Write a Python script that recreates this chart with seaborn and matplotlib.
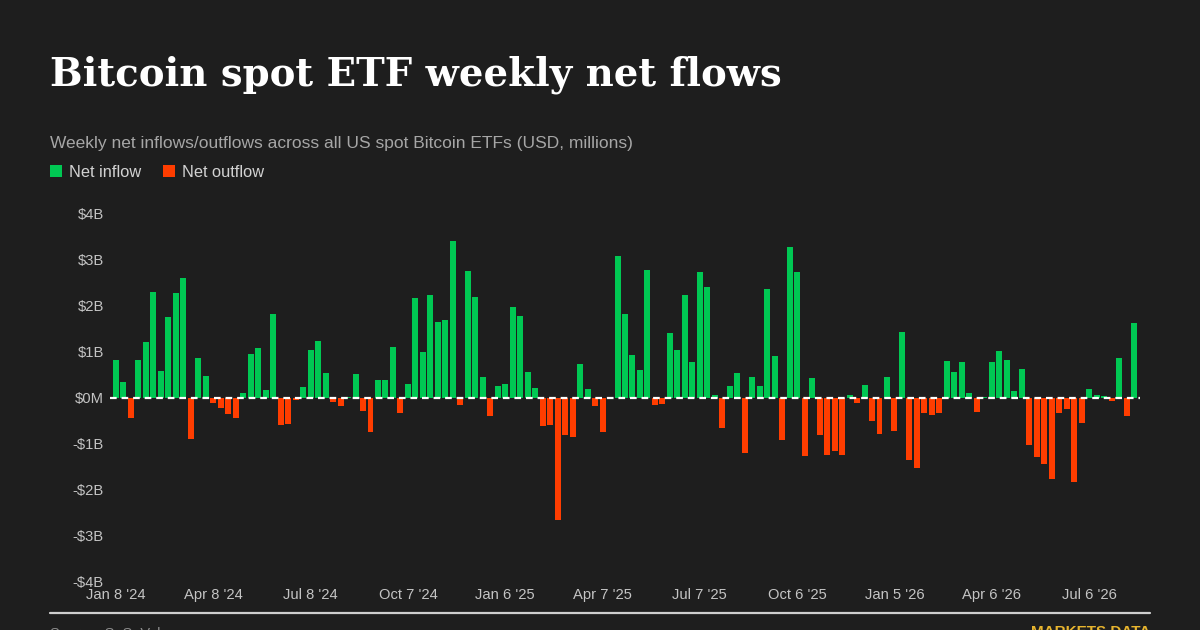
import matplotlib
matplotlib.use("Agg")
import matplotlib.pyplot as plt
from matplotlib.patches import Rectangle
from matplotlib.lines import Line2D
import seaborn as sns
import pandas as pd
import numpy as np

# ---- data (USD millions, weekly) ----
flows = [
    820, 330, -440, 820, 1200, 2280, 580, 1740, 2260, 2580,
    -910, 860, 470, -110, -230, -350, -450, 100, 940, 1070,
    160, 1820, -600, -570, -50, 230, 1040, 1230, 530, -90,
    -180, 20, 500, -300, -740, 390, 390, 1100, -340, 300,
    2150, 990, 2230, 1640, 1680, 3400, -170, 2740, 2170, 450,
    -410, 240, 300, 1960, 1760, 550, 200, -610, -590, -2650,
    -820, -860, 730, 190, -190, -740, 10, 3070, 1820, 930,
    600, 2760, -170, -150, 1390, 1020, 2230, 760, 2730, 2390,
    60, -670, 250, 540, -1200, 440, 250, 2350, 890, -930,
    3260, 2730, -1260, 430, -820, -1240, -1150, -1240, 60, -110,
    280, -520, -800, 450, -720, 1420, -1360, -1520, -340, -390,
    -340, 800, 560, 760, 90, -310, 10, 770, 1000, 820,
    150, 610, -1020, -1290, -1450, -1770, -340, -240, -1840, -550,
    190, 60, 30, -80, 850, -410, 1610,
]
start_week = "2024-01-08"
tick_weeks = [0, 13, 26, 39, 52, 65, 78, 91, 104, 117, 130]
tick_labels = ["Jan 8 '24", "Apr 8 '24", "Jul 8 '24", "Oct 7 '24", "Jan 6 '25",
               "Apr 7 '25", "Jul 7 '25", "Oct 6 '25", "Jan 5 '26", "Apr 6 '26", "Jul 6 '26"]
y_ticks = [-4000, -3000, -2000, -1000, 0, 1000, 2000, 3000, 4000]
y_labels = ["-$4B", "-$3B", "-$2B", "-$1B", "$0M", "$1B", "$2B", "$3B", "$4B"]
series_names = ["Net inflow", "Net outflow"]
colors = ["#00C853", "#FF3D00"]

title = "Bitcoin spot ETF weekly net flows"
subtitle = "Weekly net inflows/outflows across all US spot Bitcoin ETFs (USD, millions)"
source = "Source: SoSoValue"
brand = "MARKETS DATA"

BG = "#1e1e1e"

sns.set_theme(style="dark", rc={
    "axes.facecolor": BG, "figure.facecolor": BG,
    "axes.edgecolor": BG, "axes.grid": False,
})
plt.rcParams["font.family"] = ["Liberation Sans", "DejaVu Sans"]

W, H = 1200, 630
fig = plt.figure(figsize=(12, 6.3), dpi=100)
fig.patch.set_facecolor(BG)

n = len(flows)
weeks = pd.date_range(start_week, periods=n, freq="7D")
df = pd.DataFrame({
    "idx": np.arange(n),
    "week": weeks,
    "flow": flows,
})
df["dir"] = np.where(df["flow"] >= 0, series_names[0], series_names[1])

# axes placement (pixels)
xmin, xmax = -0.8, n - 1 + 0.8
px_per = (1134 - 116) / (n - 1)
left_px = 116 + xmin * px_per
right_px = 116 + (xmax) * px_per
bottom_px, top_px = 582, 213
ax = fig.add_axes([left_px / W, 1 - bottom_px / H, (right_px - left_px) / W, (bottom_px - top_px) / H])
ax.set_facecolor(BG)

sns.barplot(data=df, x="idx", y="flow", hue="dir", hue_order=series_names,
            palette=dict(zip(series_names, colors)), dodge=False, width=0.8,
            saturation=1, legend=False, ax=ax, linewidth=0)

ax.axhline(0, color="white", lw=1.6, ls=(0, (3, 2.2)), zorder=5)
ax.set_xlim(xmin, xmax)
ax.set_ylim(-4000, 4000)
ax.set_yticks(y_ticks)
ax.set_yticklabels(y_labels)
ax.set_xticks(tick_weeks)
ax.set_xticklabels(tick_labels)
ax.tick_params(axis="both", length=0, labelsize=10.6, colors="#c4c4c4")
ax.tick_params(axis="y", pad=4.5)
ax.tick_params(axis="x", pad=4)
ax.set_xlabel("")
ax.set_ylabel("")
for s in ax.spines.values():
    s.set_visible(False)

def fx(x):
    return x / W

def fy(y):
    return 1 - y / H

fig.text(fx(50), fy(86), title, family="DejaVu Serif", weight="bold", fontsize=27.8,
         color="white", va="baseline", ha="left")
fig.text(fx(50), fy(148), subtitle, fontsize=12.5, color="#a6a6a6", va="baseline", ha="left")

# legend
leg_x = [50, 163]
for name, c, lx in zip(series_names, colors, leg_x):
    fig.patches.append(Rectangle((fx(lx), fy(177)), 12 / W, 12 / H, transform=fig.transFigure,
                                 facecolor=c, edgecolor="none"))
    fig.text(fx(lx + 19), fy(177), name, fontsize=11.8, color="#d2d2d2", va="baseline", ha="left")

# bottom rule
fig.add_artist(Line2D([fx(50), fx(1150)], [fy(612.5), fy(612.5)], transform=fig.transFigure,
                      color="#cfcfcf", lw=1.6))
fig.text(fx(50), fy(627), source, fontsize=10.5, color="#8a8a8a", va="top", ha="left")
fig.text(fx(1150), fy(625.5), brand, fontsize=11, color="#E8B52E", weight="bold", va="top", ha="right")

fig.savefig("out.png", dpi=100, facecolor=BG)
